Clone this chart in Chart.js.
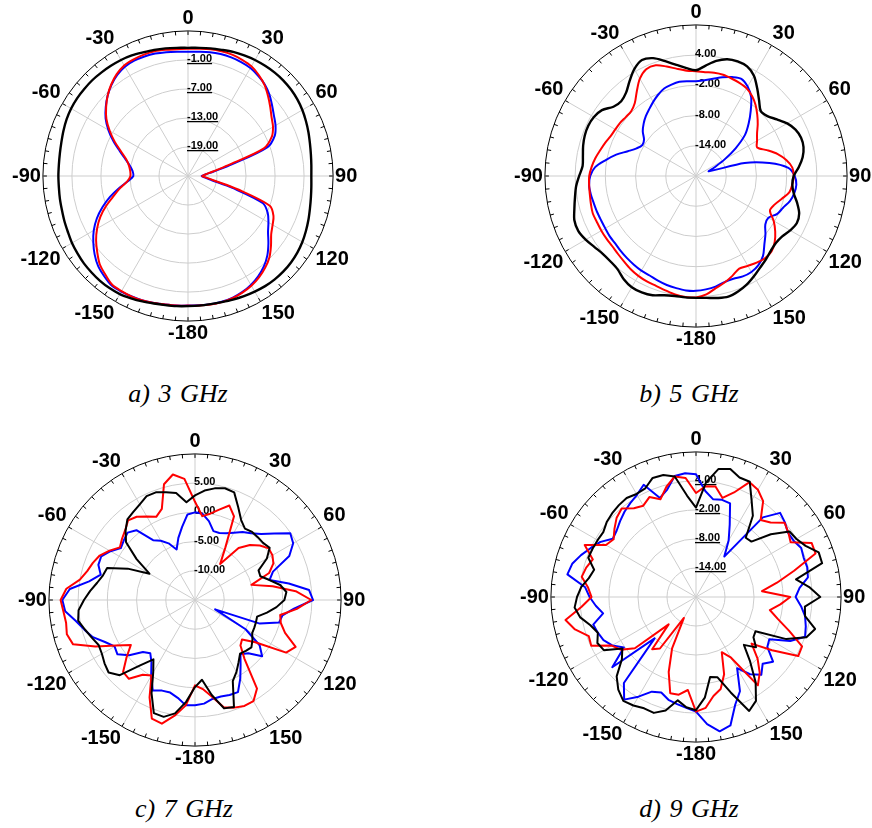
<!DOCTYPE html>
<html>
<head>
<meta charset="utf-8">
<script src="https://cdn.jsdelivr.net/npm/chart.js@4.4.1/dist/chart.umd.min.js"></script>
<style>
  body { margin: 0; background: #fff; width: 872px; height: 828px; overflow: hidden; position: relative; }
  canvas { position: absolute; }
  .cap { position: absolute; width: 200px; text-align: center; line-height: 26px;
         font: italic 26px "Liberation Serif", "Times New Roman", serif; word-spacing: 2px; color: #000; }
</style>
</head>
<body>
<canvas id="p3" width="353" height="353" style="left:9px;top:0px"></canvas>
<canvas id="p5" width="365" height="365" style="left:511px;top:-6px"></canvas>
<canvas id="p7" width="355" height="355" style="left:15px;top:423px"></canvas>
<canvas id="p9" width="353" height="353" style="left:517px;top:421px"></canvas>
<div class="cap" style="left:78px;top:379px">a) 3 GHz</div>
<div class="cap" style="left:589px;top:379px">b) 5 GHz</div>
<div class="cap" style="left:84px;top:794px">c) 7 GHz</div>
<div class="cap" style="left:589px;top:794px">d) 9 GHz</div>
<script>
// angle every 5 deg, clockwise from top
var angles = [
  "0", "5", "10", "15", "20", "25", "30", "35", "40", "45", "50", "55", "60", "65", "70", "75", "80", "85",
  "90", "95", "100", "105", "110", "115", "120", "125", "130", "135", "140", "145", "150", "155", "160", "165", "170", "175",
  "-180", "-175", "-170", "-165", "-160", "-155", "-150", "-145", "-140", "-135", "-130", "-125", "-120", "-115", "-110", "-105", "-100", "-95",
  "-90", "-85", "-80", "-75", "-70", "-65", "-60", "-55", "-50", "-45", "-40", "-35", "-30", "-25", "-20", "-15", "-10", "-5"
];

// radial ticks (dB)
var ticks3 = [-25, -19, -13, -7, -1, 5];
var ticks5 = [-20, -14, -8, -2, 4, 10];
var ticks7 = [-15, -10, -5, 0, 5, 10];
var ticks9 = [-20, -14, -8, -2, 4, 10];

// 3 GHz
var black3 = [1.5, 1.6, 1.8, 2.0, 2.3, 2.5, 2.7, 2.8, 2.9, 2.9, 2.8, 2.6, 2.3, 1.9, 1.5, 1.1, 0.8, 0.6,
  0.5, 0.6, 0.8, 1.1, 1.5, 1.9, 2.3, 2.6, 2.8, 2.9, 2.9, 2.8, 2.6, 2.4, 2.2, 2.0, 1.9, 1.9,
  1.9, 2.0, 2.1, 2.3, 2.6, 2.9, 3.2, 3.3, 3.3, 3.2, 3.1, 2.9, 2.7, 2.4, 2.2, 2.0, 1.9, 1.8,
  1.8, 1.8, 1.9, 2.1, 2.4, 2.7, 2.9, 3.0, 3.0, 3.0, 2.9, 2.8, 2.7, 2.5, 2.2, 2.0, 1.8, 1.6];
var red3 = [1.3, 1.4, 1.6, 1.7, 1.7, 1.5, 1.2, 0.5, -0.4, -1.6, -2.8, -3.9, -4.7, -5.9, -8.3, -16.5, -19.9, -21.4,
  -22.1, -21.2, -19.4, -14.4, -7.0, -5.5, -4.8, -4.0, -2.6, -1.2, -0.2, 0.6, 1.2, 1.6, 1.9, 2.0, 2.0, 1.9,
  1.8, 1.9, 2.0, 2.2, 2.4, 2.5, 2.5, 2.4, 1.6, 0.8, -0.5, -1.8, -3.3, -5.0, -7.0, -9.1, -10.8, -12.4,
  -13.1, -13.0, -12.6, -11.8, -10.3, -8.3, -6.3, -4.4, -2.9, -1.5, -0.3, 0.7, 1.4, 1.6, 1.7, 1.7, 1.5, 1.3];
var blue3 = [0.7, 0.8, 1.0, 1.1, 1.1, 1.0, 0.8, 0.3, -0.3, -1.2, -2.3, -3.3, -4.1, -5.2, -7.5, -15.5, -19.6, -21.4,
  -22.2, -21.6, -20.0, -15.5, -8.5, -6.8, -5.8, -4.8, -3.3, -1.8, -0.6, 0.3, 1.0, 1.5, 1.8, 1.9, 1.9, 1.8,
  1.8, 1.9, 2.0, 2.2, 2.4, 2.5, 2.6, 2.6, 2.0, 1.3, 0.2, -1.1, -2.5, -4.2, -6.2, -8.3, -10.5, -12.5,
  -13.7, -13.5, -12.8, -11.6, -10.0, -8.0, -6.0, -4.2, -2.8, -1.5, -0.4, 0.5, 1.1, 1.3, 1.3, 1.2, 1.0, 0.8];

// 5 GHz
var black5 = [1.0, 2.0, 3.2, 4.0, 4.2, 4.0, 3.0, 1.2, -0.5, -1.8, -1.5, -0.4, 0.9, 1.8, 2.2, 2.1, 1.5, 0.5,
  -0.6, -0.8, -0.3, 0.8, 1.8, 2.1, 1.6, 0.9, 0.7, 1.0, 1.6, 2.2, 3.0, 3.8, 4.4, 4.8, 4.6, 4.3,
  4.2, 4.2, 4.2, 4.5, 5.2, 5.5, 5.5, 5.0, 4.2, 4.0, 4.1, 4.6, 5.3, 5.8, 5.7, 5.0, 4.4, 3.9,
  3.2, 2.6, 2.8, 3.2, 3.5, 3.6, 3.4, 2.8, 1.4, 1.0, 1.6, 3.0, 4.5, 5.4, 4.9, 3.6, 2.4, 1.5];
var red5 = [0.8, 0.7, 0.8, 0.8, 0.6, 0.4, 0.1, -0.6, -1.6, -2.8, -4.0, -5.2, -6.0, -6.6, -5.0, -3.2, -1.8, -0.8,
  -0.6, -0.8, -1.2, -2.4, -3.4, -3.8, -2.2, -0.8, 0.4, 1.2, 1.3, 1.0, 0.6, 0.3, 1.1, 1.9, 2.6, 3.6,
  4.1, 4.1, 3.9, 3.5, 3.2, 3.1, 2.9, 2.6, 2.2, 1.9, 1.7, 1.7, 1.7, 1.7, 1.8, 1.6, 1.4, 1.3,
  1.2, 0.8, 0.3, -0.3, -0.8, -1.3, -1.5, -1.6, -1.8, -1.8, -1.1, 0.5, 2.3, 3.4, 3.4, 2.5, 1.6, 1.0];
var blue5 = [-1.2, -0.9, -0.4, 0.3, 0.9, 1.3, 0.5, -0.9, -3.1, -5.2, -7.3, -10.4, -13.5, -16.0, -17.3, -10.0, -5.2, -1.6,
  -0.4, 0.0, -0.2, -0.7, -1.6, -2.2, -3.4, -3.2, -2.0, -0.8, 0.7, 1.6, 2.0, 2.0, 1.7, 1.8, 2.3, 2.6,
  2.8, 2.8, 2.6, 2.4, 2.1, 1.8, 1.7, 1.5, 1.3, 1.1, 0.9, 0.9, 0.8, 0.8, 0.9, 1.0, 1.2, 1.3,
  1.0, 0.1, -1.8, -3.6, -5.6, -7.0, -7.7, -7.4, -6.2, -5.3, -4.5, -3.8, -3.0, -2.2, -1.5, -1.2, -1.0, -1.1];

// 7 GHz
var black7 = [2.9, 3.8, 4.4, 4.8, 4.6, 2.5, 0.8, -0.1, 0.2, 0.2, 0.2, 0.6, -0.8, -3.0, -3.1, -1.8, -0.2, 0.7,
  0.3, -1.0, -2.5, -4.0, -3.9, -3.8, -3.7, -3.0, -2.4, -2.7, -3.0, -2.0, -0.8, 0.3, 4.5, 4.2, 1.5, -1.3,
  -0.1, 2.5, 4.7, 5.7, 5.6, 2.6, -0.7, -2.6, -0.4, 3.2, 4.3, 3.9, 3.4, 3.2, 3.8, 4.5, 5.3, 5.0,
  4.0, 3.0, 2.0, 1.3, 1.0, -2.3, -6.0, -2.8, 0.4, 1.8, 3.0, 3.4, 3.9, 4.6, 4.6, 4.1, 3.6, 1.8];
var red7 = [1.8, -0.6, 0.0, 1.0, 2.2, 0.8, -4.6, -7.5, -3.4, -1.7, -0.5, 0.4, 0.3, -0.2, -1.5, -5.0, -1.5, 2.3,
  4.9, 2.5, -0.2, 0.2, 1.4, 4.0, 3.0, -2.4, -4.5, -4.0, -1.8, 3.5, 5.0, 5.0, 4.6, 4.0, 1.8, 0.3,
  -0.4, 3.1, 5.1, 6.9, 6.6, 3.4, -0.1, 0.6, 2.6, 2.4, 0.3, -1.6, 0.6, 3.8, 7.2, 7.7, 7.4, 7.6,
  8.0, 7.1, 5.0, 4.1, 3.6, 3.0, 1.9, 0.7, 1.3, 1.9, 2.8, 2.4, 1.5, 0.7, 1.6, 5.5, 6.8, 5.8];
var blue7 = [0.0, -0.2, -1.3, -2.8, -2.8, -2.4, -1.7, -0.8, -0.1, 1.0, 2.7, 4.9, 4.4, 2.8, -0.8, -1.8, 1.3, 4.6,
  5.2, 2.0, 0.2, -0.1, -3.2, -11.2, -5.0, -1.5, 0.0, -2.1, -2.9, -1.4, 0.5, 2.4, 2.3, 2.1, 2.2, 2.8,
  3.0, 3.1, 2.0, 1.4, 1.5, 2.1, 0.0, -2.0, -3.1, -2.4, -0.3, 1.2, 0.9, 2.0, 3.6, 4.6, 5.7, 7.3,
  7.7, 6.5, 3.4, 1.7, 2.6, 2.7, 1.7, 0.5, 0.9, 1.3, 0.6, -2.5, -3.3, -4.3, -5.8, -4.0, -2.3, -0.3];

// 9 GHz
var black9 = [-1.5, 3.8, 6.9, 7.4, 6.3, 6.3, 3.0, 0.5, -4.0, -3.8, 0.2, 3.6, 4.0, 5.0, 7.0, 7.0, 1.0, 3.5,
  5.7, 2.6, 2.9, 5.5, 4.3, 0.6, -5.8, -5.5, -3.8, -6.0, -2.6, 1.5, 4.8, 6.0, 1.0, -2.8, -3.2, 0.9,
  3.4, 2.9, 1.7, 4.3, 5.5, 5.4, 5.9, 6.2, 5.0, 3.2, 0.0, -1.4, 2.0, 2.5, 1.6, 2.6, 4.3, 5.2,
  4.6, 3.8, 2.5, 1.8, 3.7, 3.6, 3.5, 3.4, 4.1, 4.5, 4.8, 5.0, 4.6, 4.8, 6.2, 6.1, 5.3, 1.0];
var red9 = [1.5, 3.0, 3.2, 1.2, 3.0, 6.2, 5.6, 4.2, 0.8, 1.8, 3.9, 3.3, 2.6, 6.4, 6.3, 1.0, -3.0, -6.3,
  -0.5, -2.5, -4.5, -2.5, 0.5, 4.2, 4.4, -0.8, -5.0, -2.0, 0.5, 2.3, -5.5, -7.4, -3.0, -0.3, 0.8, 3.0,
  3.7, -0.7, 0.5, 0.6, -3.5, -8.3, -15.0, -7.0, -5.9, -12.0, -3.5, -1.0, 0.1, 3.9, 3.6, 5.9, 7.4, 3.8,
  1.6, 2.4, 4.0, 3.5, 2.7, 5.4, 1.5, 0.8, 2.0, 3.2, 3.9, 2.4, 1.8, 2.8, 1.5, 3.6, 5.3, 4.7];
var blue9 = [5.4, 2.0, 0.5, 0.8, 0.6, -3.5, -6.5, -9.8, 1.5, 4.6, 4.0, 3.2, 3.3, 4.0, 3.7, 3.8, 3.5, 1.5,
  0.6, 1.8, 2.9, 3.5, 4.0, 1.5, -2.5, -2.0, 0.8, -0.5, 1.0, -0.5, -3.0, 1.5, 3.7, 7.5, 8.2, 6.4,
  3.7, 3.0, 2.5, 2.0, 1.0, 1.6, 3.8, 5.9, 3.2, -7.9, 2.6, -1.8, 0.0, 1.1, 1.6, 2.0, -0.5, 0.8,
  2.0, 3.0, 7.0, 6.5, 5.3, 4.0, 2.8, 1.0, 1.4, 2.2, 3.0, 3.7, 4.4, 5.6, 1.8, 3.0, 5.4, 5.7];

// rim ticks and ring value labels, drawn under the curves
var polarDecor = {
  id: "polarDecor",
  beforeDatasetsDraw: function (chart, args, opts) {
    var s = chart.scales.r;
    var ctx = chart.ctx;
    var R = s.drawingArea;
    ctx.save();
    ctx.strokeStyle = "#000";
    ctx.lineWidth = 1;
    ctx.beginPath();
    for (var i = 0; i < chart.data.labels.length; i++) {
      var a = s.getPointPosition(i, R);
      var b = s.getPointPosition(i, R - 4);
      ctx.moveTo(a.x, a.y);
      ctx.lineTo(b.x, b.y);
    }
    ctx.stroke();

    ctx.font = "bold 11px 'Liberation Sans', Arial, sans-serif";
    ctx.fillStyle = "#000";
    ctx.textAlign = "left";
    ctx.textBaseline = "alphabetic";
    for (var k = 1; k < s.ticks.length - 1; k++) {
      var v = s.ticks[k].value;
      var y = s.yCenter - s.getDistanceFromCenterForValue(v);
      var txt = v.toFixed(2);
      var x = s.xCenter - 1;
      ctx.fillText(txt, x, y + 2);
      if (opts.underline) {
        ctx.fillRect(x, y + 3, ctx.measureText(txt).width, 1.3);
      }
    }
    ctx.restore();
  },
};

function drawPolar(id, ticks, black, red, blue, smooth, underline) {
  var min = ticks[0];
  var max = ticks[ticks.length - 1];
  return new Chart(document.getElementById(id), {
    type: "radar",
    data: {
      labels: angles,
      datasets: [
        { data: black, borderColor: "#000000", borderWidth: smooth ? 2.4 : 2, fill: false },
        { data: red, borderColor: "#ff0000", borderWidth: 2, fill: false },
        { data: blue, borderColor: "#0000ff", borderWidth: 2, fill: false },
      ],
    },
    options: {
      responsive: false,
      animation: false,
      devicePixelRatio: 1,
      layout: { padding: 0 },
      elements: {
        line: { tension: smooth ? 0.3 : 0, borderJoinStyle: "round" },
        point: { radius: 0, hoverRadius: 0 },
      },
      plugins: {
        legend: { display: false },
        tooltip: { enabled: false },
        polarDecor: { underline: underline },
      },
      scales: {
        r: {
          min: min,
          max: max,
          ticks: { display: false, stepSize: ticks[1] - ticks[0] },
          grid: {
            circular: true,
            lineWidth: 1,
            color: function (c) {
              return c.tick && c.tick.value === max ? "#000000" : "#cdcdcd";
            },
          },
          angleLines: {
            color: "#cdcdcd",
            lineWidth: function (c) {
              return c.index % 6 === 0 ? 1 : 0;
            },
          },
          pointLabels: {
            padding: 2,
            color: "#000",
            font: { family: "'Liberation Sans', Arial, sans-serif", size: 20, weight: "bold", lineHeight: 1 },
            callback: function (label, i) {
              return i % 6 === 0 ? label : "";
            },
          },
        },
      },
    },
    plugins: [polarDecor],
  });
}

drawPolar("p3", ticks3, black3, red3, blue3, true, true);
drawPolar("p5", ticks5, black5, red5, blue5, true, false);
drawPolar("p7", ticks7, black7, red7, blue7, false, false);
drawPolar("p9", ticks9, black9, red9, blue9, false, true);
</script>
</body>
</html>
